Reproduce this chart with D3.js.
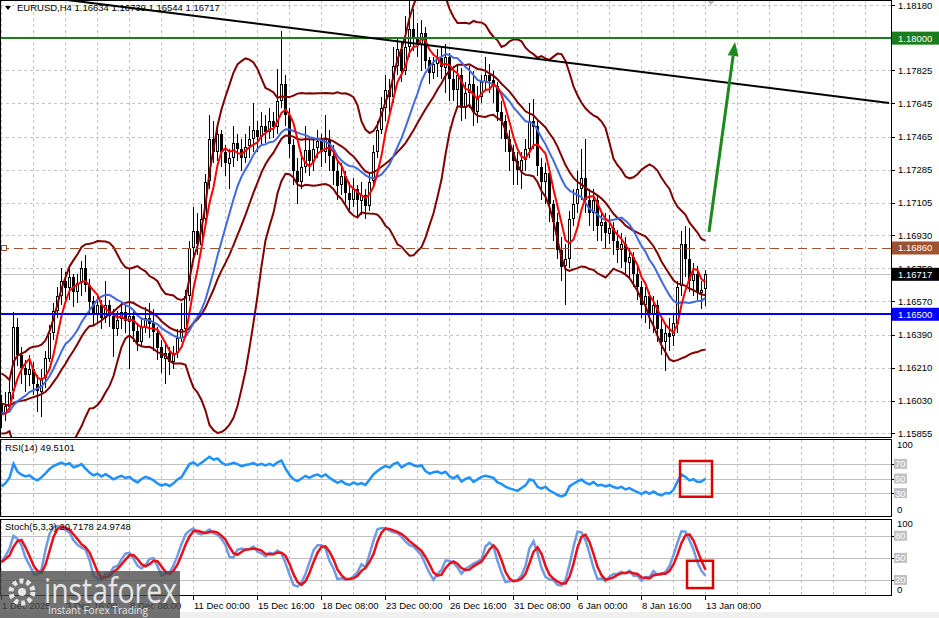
<!DOCTYPE html>
<html><head><meta charset="utf-8">
<script src="https://cdn.jsdelivr.net/npm/d3@7"></script>
<style>html,body{margin:0;padding:0;background:#fff;overflow:hidden}text{font-family:"Liberation Sans",Arial,sans-serif}</style>
</head><body><svg id="c" width="939" height="618"></svg>
<script>
// ---------- DATA ----------
const symbolTitle = "EURUSD,H4";
const warmupCloses = [1.1615,1.1612,1.1618,1.1616,1.1611,1.1614,1.1608,1.1602,1.1598,1.1594,1.1597,1.1600,1.1596,1.1592,1.1598,1.1595,1.1599,1.1593,1.1597,1.1594];
const firstOpen = 1.1601;
const closes = [
1.1596,1.1600,1.1608,1.1643,1.1628,1.1621,1.1617,1.1620,1.1612,1.1608,
1.1615,1.1626,1.1640,1.1652,1.1660,1.1668,1.1664,1.1670,1.1662,1.1667,
1.1675,1.1666,1.1657,1.1650,1.1655,1.1648,1.1655,1.1649,1.1642,1.1647,
1.1651,1.1646,1.1649,1.1641,1.1635,1.1643,1.1648,1.1645,1.1640,1.1632,
1.1626,1.1629,1.1624,1.1629,1.1637,1.1642,1.1660,1.1686,1.1695,1.1688,
1.1702,1.1722,1.1745,1.1738,1.1748,1.1738,1.1732,1.1735,1.1743,1.1740,
1.1735,1.1741,1.1745,1.1750,1.1746,1.1752,1.1749,1.1755,1.1752,1.1766,
1.1775,1.1758,1.1742,1.1728,1.1722,1.1730,1.1739,1.1733,1.1740,1.1744,
1.1738,1.1745,1.1736,1.1728,1.1720,1.1725,1.1716,1.1712,1.1718,1.1712,
1.1715,1.1709,1.1722,1.1738,1.1750,1.1762,1.1772,1.1768,1.1785,1.1794,
1.1782,1.1795,1.1805,1.1800,1.1797,1.1803,1.1788,1.1781,1.1786,1.1789,
1.1784,1.1790,1.1778,1.1772,1.1780,1.1762,1.1770,1.1775,1.1760,1.1768,
1.1776,1.1780,1.1777,1.1774,1.1760,1.1755,1.1745,1.1738,1.1733,1.1728,
1.1734,1.1740,1.1755,1.1752,1.1730,1.1722,1.1727,1.1710,1.1700,1.1685,
1.1676,1.1680,1.1702,1.1710,1.1718,1.1724,1.1712,1.1705,1.1712,1.1698,
1.1700,1.1694,1.1697,1.1690,1.1685,1.1688,1.1678,1.1681,1.1672,1.1665,
1.1655,1.1660,1.1650,1.1655,1.1642,1.1635,1.1640,1.1638,1.1645,1.1665,
1.1688,1.1680,1.1668,1.1672,1.1662,1.16634,1.16717];
const highs = [
1.1606,1.1608,1.1614,1.1651,1.1648,1.1632,1.1625,1.1628,1.1624,1.1617,
1.1620,1.1630,1.1644,1.1656,1.1665,1.1675,1.1673,1.1676,1.1672,1.1672,
1.1679,1.1682,1.1669,1.1660,1.1660,1.1658,1.1668,1.1658,1.1653,1.1652,
1.1656,1.1655,1.1675,1.1652,1.1645,1.1648,1.1654,1.1656,1.1653,1.1643,
1.1636,1.1634,1.1632,1.1633,1.1642,1.1656,1.1663,1.1690,1.1708,1.1705,
1.1710,1.1726,1.1758,1.1755,1.1752,1.1750,1.1742,1.1740,1.1752,1.1748,
1.1745,1.1748,1.1752,1.1765,1.1755,1.1760,1.1758,1.1762,1.1760,1.1783,
1.1804,1.1780,1.1762,1.1745,1.1735,1.1738,1.1752,1.1745,1.1745,1.1750,
1.1748,1.1758,1.1750,1.1742,1.1733,1.1732,1.1728,1.1722,1.1724,1.1720,
1.1722,1.1718,1.1726,1.1742,1.1755,1.1768,1.1780,1.1778,1.1795,1.1800,
1.1798,1.1812,1.1820,1.1816,1.1808,1.1810,1.1806,1.1790,1.1790,1.1794,
1.1795,1.1797,1.1792,1.1785,1.1786,1.1784,1.1776,1.1785,1.1782,1.1774,
1.1780,1.1790,1.1786,1.1782,1.1776,1.1766,1.1758,1.1750,1.1742,1.1738,
1.1738,1.1745,1.1765,1.1767,1.1755,1.1735,1.1732,1.1730,1.1712,1.1705,
1.1692,1.1688,1.1706,1.1718,1.1728,1.1740,1.1745,1.1718,1.1718,1.1714,
1.1706,1.1705,1.1704,1.1700,1.1696,1.1694,1.1692,1.1686,1.1684,1.1676,
1.1668,1.1665,1.1662,1.1660,1.1658,1.1648,1.1645,1.1648,1.1650,1.1668,
1.1695,1.1698,1.1697,1.1678,1.1676,1.1668,1.16739];
const lows = [
1.1588,1.1592,1.1598,1.1604,1.1622,1.1612,1.1608,1.1611,1.1606,1.1597,
1.1594,1.1610,1.1624,1.1636,1.1648,1.1655,1.1657,1.1658,1.1654,1.1656,
1.1660,1.1662,1.1650,1.1644,1.1646,1.1642,1.1645,1.1643,1.1627,1.1638,
1.1642,1.1640,1.1620,1.1635,1.1630,1.1632,1.1640,1.1637,1.1630,1.1625,
1.1618,1.1612,1.1617,1.1620,1.1626,1.1635,1.1640,1.1657,1.1680,1.1682,
1.1685,1.1700,1.1718,1.1732,1.1733,1.1730,1.1725,1.1718,1.1730,1.1733,
1.1728,1.1732,1.1735,1.1738,1.1738,1.1742,1.1743,1.1745,1.1746,1.1748,
1.1762,1.1752,1.1735,1.1720,1.1710,1.1718,1.1727,1.1725,1.1728,1.1735,
1.1730,1.1732,1.1728,1.1720,1.1712,1.1715,1.1710,1.1705,1.1708,1.1703,
1.1704,1.1702,1.1706,1.1720,1.1735,1.1748,1.1755,1.1760,1.1765,1.1780,
1.1776,1.1780,1.1790,1.1793,1.1790,1.1782,1.1783,1.1775,1.1778,1.1779,
1.1778,1.1770,1.1766,1.1766,1.1762,1.1755,1.1756,1.1762,1.1752,1.1754,
1.1765,1.1772,1.1770,1.1765,1.1755,1.1745,1.1738,1.1728,1.1720,1.1720,
1.1718,1.1728,1.1735,1.1740,1.1725,1.1712,1.1710,1.1700,1.1690,1.1680,
1.1668,1.1655,1.1675,1.1698,1.1705,1.1712,1.1705,1.1698,1.1695,1.1690,
1.1690,1.1686,1.1688,1.1682,1.1678,1.1675,1.1672,1.1670,1.1665,1.1658,
1.1648,1.1645,1.1642,1.1640,1.1635,1.1628,1.1619,1.1630,1.1633,1.1640,
1.1660,1.1670,1.1662,1.1660,1.1658,1.1653,1.16544];
const priceTicks = [1.18180,1.18000,1.17825,1.17645,1.17465,1.17285,1.17105,1.16930,1.16750,1.16570,1.16390,1.16210,1.16030,1.15855];
const timeLabelIdx = [0,16,32,48,64,80,96,112,128,144,160,176];
const timeLabels = ["1 Dec 2025","3 Dec 16:00","8 Dec 08:00","11 Dec 00:00","15 Dec 16:00","18 Dec 08:00","23 Dec 00:00","26 Dec 16:00","31 Dec 08:00","6 Jan 00:00","8 Jan 16:00","13 Jan 08:00"];
const levelGreen = 1.18000, levelBlue = 1.16500, levelBrown = 1.16860;
const trendIdx = [16, 222], trendPrice = [1.18209, 1.17648];
const arrowIdx = [177, 183.5], arrowPrice = [1.16947, 1.17979];
const rsiLevels = [70,50,30], stochLevels = [80,50,20];
const rsiBoxIdx = [169.75, 177.75], rsiBoxVal = [74, 25];
const stBoxIdx = [171.5, 178], stBoxVal = [46, 9];
const rsiReading = "49.5101", stochReadings = ["20.7178","24.9748"];
const shiftMarkIdx = 177.5;

// ---------- SCALES ----------
const svg = d3.select("#c");
const n = closes.length;
const AX = 891;
const x = d3.scaleLinear().domain([0, n-1]).range([1, 705]);
const y = d3.scaleLinear().domain([1.15855, 1.18180]).range([433, 5]);
const yR = d3.scaleLinear().domain([0,100]).range([515, 442]);
const yS = d3.scaleLinear().domain([0,100]).range([594.7, 521]);
const fmt = d3.format(".5f");

// ---------- INDICATORS ----------
const all = warmupCloses.concat(closes), off = warmupCloses.length;
function smaAt(p, j){let s=0;for(let k=j-p+1;k<=j;k++)s+=all[k];return s/p;}
const bb = closes.map((c,i)=>{const j=i+off;const m=smaAt(20,j);let v=0;for(let k=j-19;k<=j;k++)v+=(all[k]-m)**2;const sd=Math.sqrt(v/20);return {i,m,u:m+2*sd,l:m-2*sd};});
const ma5 = closes.map((c,i)=>({i,v:smaAt(5,i+off)}));
const ma14 = closes.map((c,i)=>({i,v:smaAt(14,i+off)}));
const rsi=[];{let g=0,l=0;for(let k=1;k<=14;k++){const d=all[k]-all[k-1];if(d>0)g+=d;else l-=d;}g/=14;l/=14;
 for(let j=15;j<all.length;j++){const d=all[j]-all[j-1];g=(g*13+(d>0?d:0))/14;l=(l*13+(d<0?-d:0))/14;if(j>=off)rsi.push({i:j-off,v:l===0?100:100-100/(1+g/l)});}}
const candles = closes.map((c,i)=>{const o=i?closes[i-1]:firstOpen;return {i,o,c,h:Math.max(highs[i],o,c),l:Math.min(lows[i],o,c)};});
const hl = candles.map((d,i)=>{const s=candles.slice(Math.max(0,i-4),i+1);return {hh:d3.max(s,e=>e.h),ll:d3.min(s,e=>e.l)};});
const stK = candles.map((d,i)=>{let a=0,b=0;for(let k=Math.max(0,i-2);k<=i;k++){a+=candles[k].c-hl[k].ll;b+=hl[k].hh-hl[k].ll;}return {i,v:b?100*a/b:50};});
const stD = stK.map((d,i)=>{const s=stK.slice(Math.max(0,i-2),i+1);return {i,v:d3.mean(s,e=>e.v)};});

// ---------- DRAW ----------
const defs = svg.append("defs");
defs.append("clipPath").attr("id","cm").append("rect").attr("x",0).attr("y",0).attr("width",AX).attr("height",437);
defs.append("clipPath").attr("id","cr").append("rect").attr("x",0).attr("y",440).attr("width",AX).attr("height",76);
defs.append("clipPath").attr("id","cs").append("rect").attr("x",0).attr("y",520).attr("width",AX).attr("height",75);

svg.append("rect").attr("x",0).attr("y",612).attr("width",939).attr("height",6).attr("fill","#efefef");

const gridX = d3.range(0, 223, 8);
function vgrid(y0,y1){svg.append("g").selectAll("line").data(gridX).join("line")
 .attr("x1",d=>Math.round(x(d))+0.5).attr("x2",d=>Math.round(x(d))+0.5).attr("y1",y0).attr("y2",y1)
 .attr("stroke","#c4c4c4").attr("stroke-dasharray","3,3").attr("shape-rendering","crispEdges");}
vgrid(0,437); vgrid(440,516); vgrid(520,595);
svg.append("g").selectAll("line").data(priceTicks).join("line")
 .attr("x1",0).attr("x2",AX).attr("y1",d=>Math.round(y(d))+0.5).attr("y2",d=>Math.round(y(d))+0.5)
 .attr("stroke","#c4c4c4").attr("stroke-dasharray","3,3").attr("shape-rendering","crispEdges");
svg.append("g").selectAll("line").data(rsiLevels).join("line")
 .attr("x1",0).attr("x2",AX).attr("y1",d=>Math.round(yR(d))+0.5).attr("y2",d=>Math.round(yR(d))+0.5)
 .attr("stroke","#c0c0c0").attr("shape-rendering","crispEdges");
svg.append("g").selectAll("line").data(stochLevels).join("line")
 .attr("x1",0).attr("x2",AX).attr("y1",d=>Math.round(yS(d))+0.5).attr("y2",d=>Math.round(yS(d))+0.5)
 .attr("stroke","#c0c0c0").attr("shape-rendering","crispEdges");
const lastC = closes[n-1];
svg.append("line").attr("x1",0).attr("x2",AX).attr("y1",Math.round(y(lastC))+0.5).attr("y2",Math.round(y(lastC))+0.5).attr("stroke","#c0c0c0").attr("shape-rendering","crispEdges");

const main = svg.append("g").attr("clip-path","url(#cm)");
const cg = main.append("g").attr("shape-rendering","crispEdges");
cg.selectAll("line").data(candles).join("line")
 .attr("x1",d=>x(d.i)+0.5).attr("x2",d=>x(d.i)+0.5).attr("y1",d=>y(d.h)).attr("y2",d=>y(d.l)).attr("stroke","#000");
cg.selectAll("rect.b").data(candles).join("rect").attr("class","b")
 .attr("x",d=>x(d.i)-1).attr("width",3)
 .attr("y",d=>Math.round(y(Math.max(d.o,d.c)))).attr("height",d=>Math.max(1,Math.round(Math.abs(y(d.o)-y(d.c)))))
 .attr("fill","#000");
cg.selectAll("rect.w").data(candles.filter(d=>d.c>d.o && Math.abs(y(d.o)-y(d.c))>2)).join("rect").attr("class","w")
 .attr("x",d=>x(d.i)).attr("width",1)
 .attr("y",d=>Math.round(y(d.c))+1).attr("height",d=>Math.round(Math.abs(y(d.o)-y(d.c)))-2)
 .attr("fill","#fff");

const line = (ys)=>d3.line().x(d=>x(d.i)+0.5).y(d=>ys(d.v));
const maroon="#800000";
["u","l","m"].forEach(k=>main.append("path").datum(bb).attr("d",d3.line().x(d=>x(d.i)+0.5).y(d=>y(d[k]))).attr("fill","none").attr("stroke",maroon).attr("stroke-width",2));
main.append("path").datum(ma14).attr("d",line(y)).attr("fill","none").attr("stroke","#4169e1").attr("stroke-width",2);
main.append("path").datum(ma5).attr("d",line(y)).attr("fill","none").attr("stroke","#ff0000").attr("stroke-width",2);

function hline(p,color,w,dash){const yy=Math.round(y(p))+(w%2?0.5:0);
 const l=main.append("line").attr("x1",0).attr("x2",AX).attr("y1",yy).attr("y2",yy).attr("stroke",color).attr("stroke-width",w).attr("shape-rendering","crispEdges");
 if(dash)l.attr("stroke-dasharray",dash);}
hline(levelBrown,"#a0522d",1,"9,5");
main.append("rect").attr("x",1.5).attr("y",Math.round(y(levelBrown))-2.5).attr("width",5).attr("height",5).attr("fill","#fff").attr("stroke","#a0522d");
hline(levelGreen,"#1b7d1b",2);
hline(levelBlue,"#0000ff",2);
main.append("line").attr("x1",x(trendIdx[0])).attr("y1",y(trendPrice[0])).attr("x2",x(trendIdx[1])).attr("y2",y(trendPrice[1]))
 .attr("stroke","#000").attr("stroke-width",2);
{const x1=x(arrowIdx[0]),y1=y(arrowPrice[0]),x2=x(arrowIdx[1]),y2=y(arrowPrice[1]);
 const a=Math.atan2(y2-y1,x2-x1),L=14,Wd=5.5;
 const bx=x2-L*Math.cos(a),by=y2-L*Math.sin(a);
 main.append("line").attr("x1",x1).attr("y1",y1).attr("x2",bx).attr("y2",by).attr("stroke","#1b8a1b").attr("stroke-width",3);
 main.append("path").attr("d",`M${x2},${y2}L${bx+Wd*Math.sin(a)},${by-Wd*Math.cos(a)}L${bx-Wd*Math.sin(a)},${by+Wd*Math.cos(a)}Z`).attr("fill","#1b8a1b");}
// shift marker
{const sx=x(shiftMarkIdx);main.append("path").attr("d",`M${sx-4},0L${sx+4},0L${sx},5Z`).attr("fill","#b8b8b8");}

svg.append("path").attr("d","M5,6L11,6L8,10Z").attr("fill","#000");
const lastO = candles[n-1].o, lastH=candles[n-1].h, lastL=candles[n-1].l;
svg.append("text").attr("x",17).attr("y",11).attr("font-size",9.5).attr("fill","#000")
 .text(`${symbolTitle}  ${fmt(lastO)} ${fmt(lastH)} ${fmt(lastL)} ${fmt(lastC)}`);

const rp = svg.append("g").attr("clip-path","url(#cr)");
svg.append("text").attr("x",5).attr("y",451).attr("font-size",9.5).text(`RSI(14) ${rsiReading}`);
rp.append("path").datum(rsi).attr("d",line(yR)).attr("fill","none").attr("stroke","#1e90ff").attr("stroke-width",2.5);
svg.append("rect").attr("x",x(rsiBoxIdx[0])).attr("y",yR(rsiBoxVal[0])).attr("width",x(rsiBoxIdx[1])-x(rsiBoxIdx[0])).attr("height",yR(rsiBoxVal[1])-yR(rsiBoxVal[0]))
 .attr("fill","none").attr("stroke","#e00000").attr("stroke-width",2.5);

const sp = svg.append("g").attr("clip-path","url(#cs)");
svg.append("text").attr("x",5).attr("y",530).attr("font-size",9.5).text(`Stoch(5,3,3) ${stochReadings[0]} ${stochReadings[1]}`);
sp.append("path").datum(stK).attr("d",line(yS)).attr("fill","none").attr("stroke","#6f9be6").attr("stroke-width",2.5);
sp.append("path").datum(stD).attr("d",line(yS)).attr("fill","none").attr("stroke","#e8101a").attr("stroke-width",2.5);
svg.append("rect").attr("x",x(stBoxIdx[0])).attr("y",yS(stBoxVal[0])).attr("width",x(stBoxIdx[1])-x(stBoxIdx[0])).attr("height",yS(stBoxVal[1])-yS(stBoxVal[0]))
 .attr("fill","none").attr("stroke","#e00000").attr("stroke-width",2.5);

const fr = svg.append("g").attr("fill","none").attr("stroke","#000").attr("shape-rendering","crispEdges");
fr.append("rect").attr("x",0.5).attr("y",0.5).attr("width",AX-0.5).attr("height",437);
fr.append("rect").attr("x",0.5).attr("y",439.5).attr("width",AX-0.5).attr("height",76.5);
fr.append("rect").attr("x",0.5).attr("y",519.5).attr("width",AX-0.5).attr("height",76);

const pa = svg.append("g");
pa.selectAll("line").data(priceTicks).join("line").attr("x1",AX).attr("x2",AX+4)
 .attr("y1",d=>Math.round(y(d))+0.5).attr("y2",d=>Math.round(y(d))+0.5).attr("stroke","#000").attr("shape-rendering","crispEdges");
pa.selectAll("text").data(priceTicks).join("text").attr("x",AX+7).attr("y",d=>y(d)+3.5).attr("font-size",9.5).text(d=>fmt(d));
function plabel(p,bg){const yy=y(p);pa.append("rect").attr("x",AX+1).attr("y",yy-6.5).attr("width",939-AX-1).attr("height",13).attr("fill",bg);
 pa.append("text").attr("x",AX+7).attr("y",yy+3.5).attr("font-size",9.5).attr("fill","#fff").text(fmt(p));}
plabel(levelGreen,"#1b7d1b"); plabel(levelBrown,"#a0522d"); plabel(levelBlue,"#0000ff"); plabel(lastC,"#000");

function sublabels(sc,levels){
 pa.append("text").attr("x",AX+6).attr("y",sc(100)+6).attr("font-size",9.5).text("100");
 pa.append("text").attr("x",AX+6).attr("y",sc(0)-2).attr("font-size",9.5).text("0");
 levels.forEach(v=>{pa.append("rect").attr("x",AX+3).attr("y",sc(v)-5).attr("width",13).attr("height",10).attr("fill","#c0c0c0");
  pa.append("line").attr("x1",AX).attr("x2",AX+3).attr("y1",Math.round(sc(v))+0.5).attr("y2",Math.round(sc(v))+0.5).attr("stroke","#000");
  pa.append("text").attr("x",AX+4).attr("y",sc(v)+3.5).attr("font-size",9.5).attr("fill","#fff").text(v);});}
sublabels(yR,rsiLevels); sublabels(yS,stochLevels);

const ta = svg.append("g");
ta.selectAll("line").data(timeLabelIdx).join("line").attr("x1",d=>x(d)+0.5).attr("x2",d=>x(d)+0.5).attr("y1",596).attr("y2",600)
 .attr("stroke","#000").attr("shape-rendering","crispEdges");
ta.selectAll("text").data(timeLabelIdx).join("text").attr("x",d=>x(d)+1).attr("y",609).attr("font-size",9.5).text((d,i)=>timeLabels[i]);

// watermark
const wm = svg.append("g");
wm.append("rect").attr("x",0).attr("y",571).attr("width",180).attr("height",47).attr("fill","#4a4a4a").attr("opacity",0.78);
const gx=22,gy=592;
wm.append("circle").attr("cx",gx).attr("cy",gy).attr("r",11).attr("fill","none").attr("stroke","#e6e6e6").attr("stroke-width",5).attr("stroke-dasharray","4,3");
wm.append("circle").attr("cx",gx).attr("cy",gy).attr("r",4).attr("fill","#e6e6e6");
wm.append("text").attr("x",44).attr("y",603).attr("font-size",34).attr("fill","#e6e6e6").attr("style","font-family:'Open Sans',Lato,sans-serif")
 .attr("textLength",133).attr("lengthAdjust","spacingAndGlyphs").text("instaforex");
wm.append("text").attr("x",48).attr("y",614).attr("font-size",11).attr("fill","#e6e6e6").attr("style","font-family:'Open Sans',Lato,sans-serif")
 .attr("textLength",100).attr("lengthAdjust","spacingAndGlyphs").text("Instant Forex Trading");
</script></body></html>
